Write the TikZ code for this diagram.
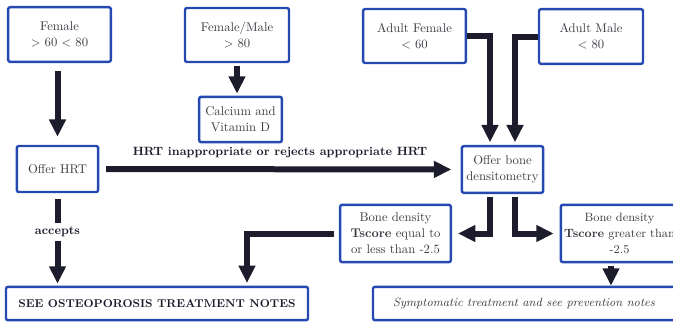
\documentclass[tikz,border=0pt]{standalone}
\usepackage{tikz}
\usetikzlibrary{arrows.meta,positioning,calc}
\definecolor{boxblue}{RGB}{38,72,178}
\definecolor{arrowdark}{RGB}{28,28,44}
\definecolor{textgray}{RGB}{60,60,68}

\begin{document}
\begin{tikzpicture}[
    x=0.75pt, y=-0.75pt,
    box/.style={rectangle, draw=boxblue, line width=1.8pt, rounded corners=1.5pt, fill=white, align=center, text=textgray, font=\fontsize{9.5}{12}\selectfont, inner sep=2pt},
    arrow/.style={-{Triangle[length=13pt, width=12pt]}, line width=4.5pt, draw=arrowdark, shorten <=4pt, shorten >=4pt},
    tag/.style={font=\fontsize{9}{11}\selectfont\bfseries, text=arrowdark}
]
\useasboundingbox (0,0) rectangle (673,322);

\node[box, minimum width=77pt, minimum height=41pt] (female) at (59.5,34.5) {Female\\$>$ 60 $<$ 80};
\node[box, minimum width=78pt, minimum height=40.5pt] (femalemale) at (237,35) {Female/Male\\$>$ 80};
\node[box, minimum width=62pt, minimum height=34pt] (calcium) at (240.5,119.5) {Calcium and\\Vitamin D};
\node[box, minimum width=61pt, minimum height=34.5pt] (offerhrt) at (57.5,169) {Offer HRT};
\node[box, minimum width=77pt, minimum height=40.5pt] (adultfemale) at (414.5,36) {Adult Female\\$<$ 60};
\node[box, minimum width=78pt, minimum height=41pt] (adultmale) at (591,36.5) {Adult Male\\$<$ 80};
\node[box, minimum width=61pt, minimum height=35pt] (offerbone) at (502.5,169.5) {Offer bone\\densitometry};
\node[box, minimum width=83pt, minimum height=43pt] (lowscore) at (395.5,233.5) {Bone density\\\textbf{Tscore} equal to\\or less than -2.5};
\node[box, minimum width=88pt, minimum height=43pt, font=\fontsize{9}{12}\selectfont] (highscore) at (619.5,233.5) {Bone density\\\textbf{Tscore} greater than\\-2.5};
\node[box, minimum width=226.5pt, minimum height=25pt, font=\fontsize{8.5}{10}\selectfont\bfseries, text=arrowdark] (treatment) at (157,303.5) {SEE OSTEOPOROSIS TREATMENT NOTES};
\node[box, minimum width=226.5pt, minimum height=25pt, font=\fontsize{9}{11}\selectfont\itshape] (prevention) at (524,303.5) {Symptomatic treatment and see prevention notes};

\coordinate (drop) at ($(highscore.south)+(-8.5,0)$);

\draw[arrow, shorten <=6pt, shorten >=6pt] (offerhrt.north |- female.south) -- (offerhrt.north);
\draw[arrow, shorten <=2pt, shorten >=1.5pt] (femalemale.south) -- (femalemale.south |- calcium.north);
\draw[arrow, shorten <=0pt, shorten >=2pt] (adultfemale.east) -| ($(offerbone.north)+(-12.5,0)$);
\draw[arrow, shorten <=0pt, shorten >=2pt] (adultmale.west) -| ($(offerbone.north)+(12.5,0)$);
\draw[arrow, shorten <=5pt, shorten >=7pt] (offerhrt) -- node[above=3pt, tag] {HRT inappropriate or rejects appropriate HRT} (offerbone);
\draw[arrow, shorten <=4.5pt, shorten >=1.5pt] (offerhrt.south) -- node[pos=0.42, fill=white, tag] {accepts} (offerhrt.south |- treatment.north);
\draw[arrow, shorten <=2pt, shorten >=4.5pt] ($(offerbone.south)+(-12.5,0)$) |- (lowscore.east);
\draw[arrow, shorten <=2pt, shorten >=4.5pt] ($(offerbone.south)+(12.5,0)$) |- (highscore.west);
\draw[arrow, shorten <=4pt, shorten >=2pt] (lowscore.west) -| ($(treatment.north)+(90,0)$);
\draw[arrow, shorten <=2pt, shorten >=0pt] (drop) -- (drop |- prevention.north);
\end{tikzpicture}
\end{document}
